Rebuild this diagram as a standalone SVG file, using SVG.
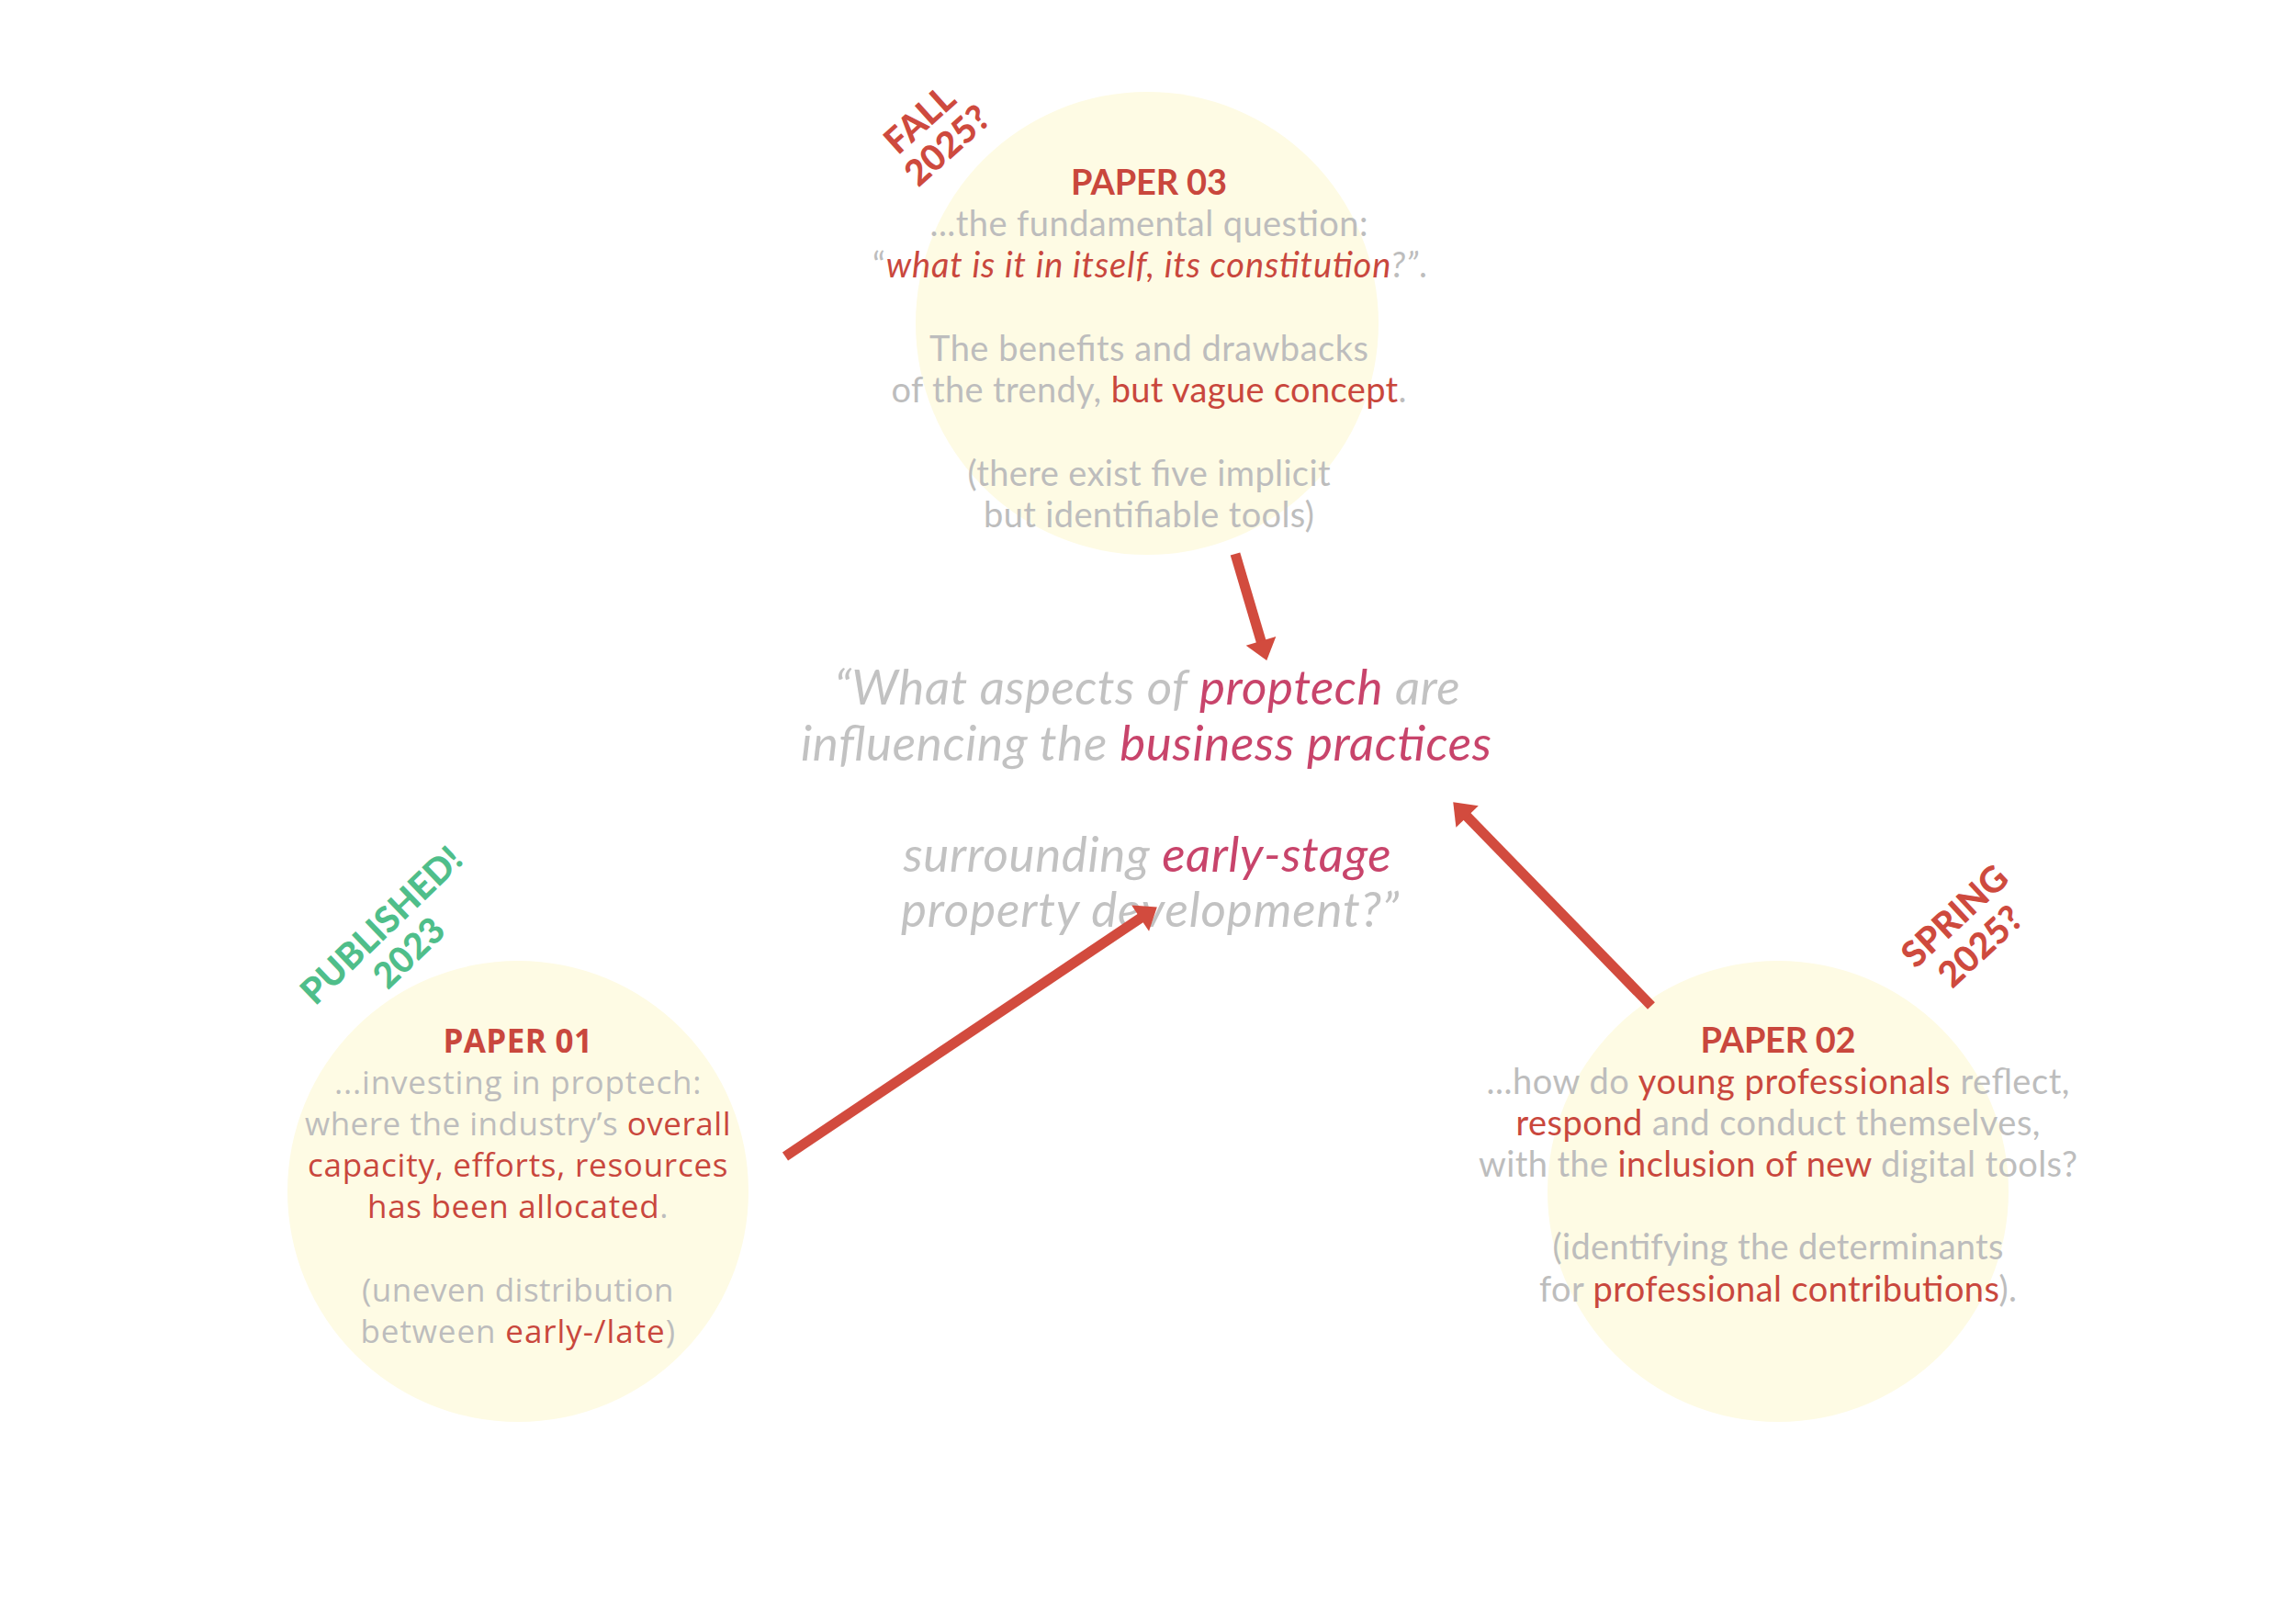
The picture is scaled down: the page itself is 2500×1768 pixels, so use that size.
<svg xmlns="http://www.w3.org/2000/svg" width="2500" height="1768" viewBox="0 0 2500 1768">
<defs>
<style>
.bg{fill:#ffffff}
.circ{fill:#FEFBE4}
.t{font-family:Lato,"Noto Sans",sans-serif;font-size:38px;fill:#BDBDBD;text-anchor:middle}
.t1{font-family:"Open Sans",Lato,sans-serif;font-size:35px;fill:#BDBDBD;text-anchor:middle;letter-spacing:0.5px}
.h{font-weight:bold;fill:#C9473D}
.r{fill:#C9473D}
.q{font-family:Lato,"Noto Sans",sans-serif;font-size:53px;font-style:italic;fill:#C2C2C2;text-anchor:middle}
.p{fill:#C8446B}
.tag{font-family:Lato,"Noto Sans",sans-serif;font-size:39px;font-weight:900;text-anchor:middle}
.red{fill:#CE4A3E}
.green{fill:#4FBE8A}
.arrow{stroke:#D24B3E;stroke-width:11;fill:none;marker-end:url(#ah)}
</style>
<marker id="ah" markerUnits="userSpaceOnUse" markerWidth="40" markerHeight="40" viewBox="-2 -20 28 40" refX="1" refY="0" orient="auto">
<path d="M0,-17 L22,0 L0,17 Z" fill="#D24B3E"/>
</marker>
</defs>
<rect class="bg" x="0" y="0" width="2500" height="1768"/>

<g id="paper03">
<circle class="circ" cx="1249" cy="352" r="252"/>
<text class="t h" x="1251" y="212" textLength="170">PAPER 03</text>
<text class="t" x="1251" y="257" textLength="477">...the fundamental question:</text>
<text class="t" x="1252" y="302" textLength="604">“<tspan class="r" font-style="italic">what is it in itself, its constitution</tspan><tspan font-style="italic">?”</tspan>.</text>
<text class="t" x="1251" y="393" textLength="478">The benefits and drawbacks</text>
<text class="t" x="1251" y="438" textLength="561">of the trendy, <tspan class="r">but vague concept</tspan>.</text>
<text class="t" x="1251" y="529" textLength="395">(there exist five implicit</text>
<text class="t" x="1251" y="574" textLength="360">but identifiable tools)</text>
</g>

<g id="tag03">
<g transform="translate(1001,130) rotate(-42)"><text class="tag red" x="0" y="14">FALL</text></g>
<g transform="translate(1031,158) rotate(-42)"><text class="tag red" x="0" y="14">2025?</text></g>
</g>

<g id="paper01">
<circle class="circ" cx="564" cy="1297" r="251"/>
<text class="t1 h" x="564" y="1146" textLength="163">PAPER 01</text>
<text class="t1" x="564" y="1191" textLength="400">...investing in proptech:</text>
<text class="t1" x="564" y="1236" textLength="464">where the industry’s <tspan class="r">overall</tspan></text>
<text class="t1 r" x="564" y="1281" textLength="458">capacity, efforts, resources</text>
<text class="t1" x="564" y="1326" textLength="328"><tspan class="r">has been allocated</tspan>.</text>
<text class="t1" x="564" y="1417" textLength="340">(uneven distribution</text>
<text class="t1" x="564" y="1462" textLength="343">between <tspan class="r">early-/late</tspan>)</text>
</g>

<g id="tag01">
<g transform="translate(415,1007) rotate(-44)"><text class="tag green" x="0" y="14">PUBLISHED!</text></g>
<g transform="translate(445,1037) rotate(-44)"><text class="tag green" x="0" y="14">2023</text></g>
</g>

<g id="paper02">
<circle class="circ" cx="1936" cy="1297" r="251"/>
<text class="t h" x="1936" y="1146" textLength="169">PAPER 02</text>
<text class="t" x="1936" y="1191" textLength="635">...how do <tspan class="r">young professionals</tspan> reflect,</text>
<text class="t" x="1936" y="1236" textLength="571"><tspan class="r">respond</tspan> and conduct themselves,</text>
<text class="t" x="1936" y="1281" textLength="652">with the <tspan class="r">inclusion of new</tspan> digital tools?</text>
<text class="t" x="1936" y="1371" textLength="491">(identifying the determinants</text>
<text class="t" x="1936" y="1417" textLength="520">for <tspan class="r">professional contributions</tspan>).</text>
</g>

<g id="tag02">
<g transform="translate(2128,997) rotate(-43)"><text class="tag red" x="0" y="14">SPRING</text></g>
<g transform="translate(2156,1030) rotate(-43)"><text class="tag red" x="0" y="14">2025?</text></g>
</g>

<g id="question">
<text class="q" x="1249" y="767" textLength="681">“What aspects of <tspan class="p">proptech</tspan> are</text>
<text class="q" x="1248" y="828" textLength="752">influencing the <tspan class="p">business practices</tspan></text>
<text class="q" x="1249" y="949" textLength="531">surrounding <tspan class="p">early-stage</tspan></text>
<text class="q" x="1252" y="1009" textLength="542">property development?”</text>
</g>

<g id="connectors">
<line class="arrow" x1="1345" y1="603" x2="1373.3" y2="698.8"/>
<line class="arrow" x1="855" y1="1259" x2="1242.4" y2="999.1"/>
<line class="arrow" x1="1798" y1="1095" x2="1596.9" y2="888.3"/>
</g>
</svg>
